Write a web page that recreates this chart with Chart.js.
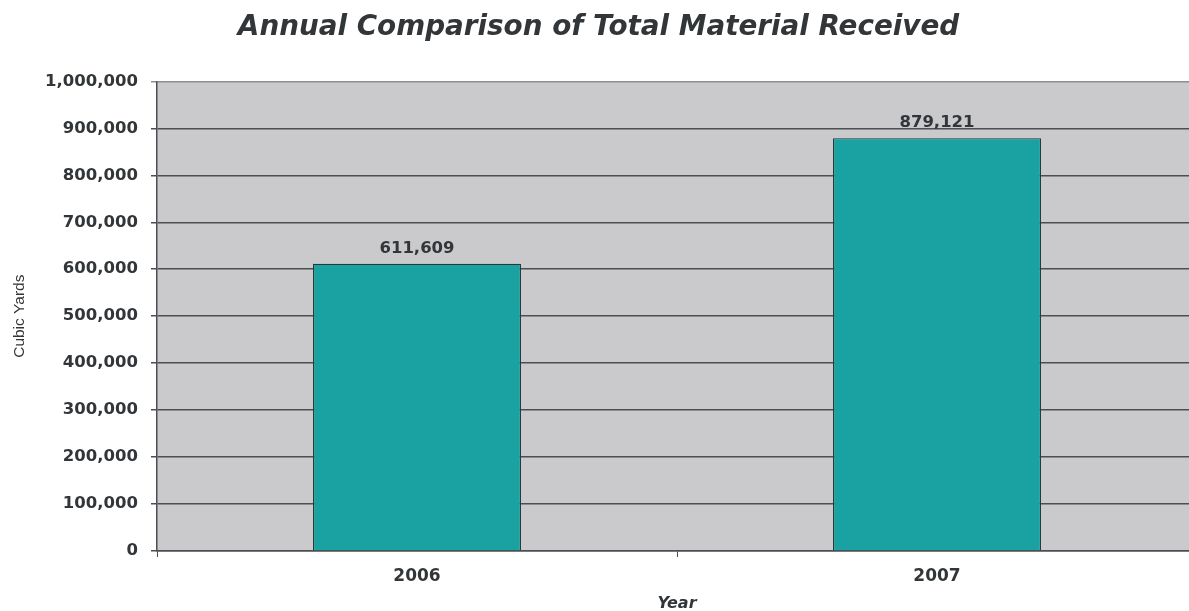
<!DOCTYPE html>
<html>
<head>
<meta charset="utf-8">
<title>Annual Comparison of Total Material Received</title>
<script src="https://cdn.jsdelivr.net/npm/chart.js@4/dist/chart.umd.min.js"></script>
<style>
  html, body { margin: 0; padding: 0; background: #fff; overflow: hidden; }
  #wrap { position: relative; width: 1200px; height: 611px; }
</style>
</head>
<body>
<div id="wrap"><canvas id="materialChart"></canvas></div>
<script>
// dados do gráfico
const anos = ['2006', '2007'];
const volumes = [611609, 879121];
const ticksY = [0, 100000, 200000, 300000, 400000, 500000, 600000, 700000, 800000, 900000, 1000000];

const corBarra = '#1aa2a2';
const corBorda = '#2a3838';
const corFundo = '#cacacd';
const corGrade = '#4c4f52';
const corTexto = '#333638';

const fmt = v => Number(v).toLocaleString('en-US');

// fundo cinza da área de plotagem
const fundoArea = {
    id: 'fundoArea',
    beforeDraw(chart) {
        const { ctx, chartArea: a } = chart;
        ctx.save();
        ctx.fillStyle = corFundo;
        ctx.fillRect(a.left, a.top, a.right - a.left, a.bottom - a.top);
        ctx.restore();
    }
};

// valores acima das barras
const rotulos = {
    id: 'rotulos',
    afterDatasetsDraw(chart) {
        const { ctx } = chart;
        const meta = chart.getDatasetMeta(0);
        ctx.save();
        ctx.font = 'bold 16.5px "DejaVu Sans"';
        ctx.fillStyle = corTexto;
        ctx.textAlign = 'center';
        ctx.textBaseline = 'middle';
        meta.data.forEach((bar, i) => {
            ctx.fillText(fmt(chart.data.datasets[0].data[i]), bar.x, bar.y - 15);
        });
        ctx.restore();
    }
};

new Chart(document.getElementById('materialChart'), {
    type: 'bar',
    data: {
        labels: anos,
        datasets: [{
            label: 'Cubic Yards',
            data: volumes,
            backgroundColor: corBarra,
            borderColor: corBorda,
            borderWidth: 1.2,
            barPercentage: 0.4,
            categoryPercentage: 1.0
        }]
    },
    options: {
        responsive: true,
        maintainAspectRatio: false,
        animation: false,
        layout: { padding: { left: 0, right: 3, top: 0, bottom: 0 } },
        plugins: {
            legend: { display: false },
            tooltip: { enabled: false },
            title: {
                display: true,
                text: 'Annual Comparison of Total Material Received',
                color: corTexto,
                font: { family: 'DejaVu Sans', size: 27.8, weight: 'bold', style: 'italic' },
                padding: { top: 11, bottom: 37 }
            }
        },
        scales: {
            x: {
                offset: true,
                afterFit(scale) { scale.height = 60; },
                grid: {
                    offset: true,
                    drawOnChartArea: false,
                    drawTicks: true,
                    tickLength: 6,
                    color: corGrade
                },
                border: { display: true, color: corGrade, width: 1.5 },
                ticks: {
                    color: corTexto,
                    padding: 9,
                    font: { family: 'DejaVu Sans', size: 17, weight: 'bold' }
                },
                title: {
                    display: true,
                    text: 'Year',
                    color: corTexto,
                    padding: { top: 0, bottom: -2 },
                    font: { family: 'DejaVu Sans', size: 16, weight: 'bold', style: 'italic' }
                }
            },
            y: {
                min: 0,
                max: 1000000,
                afterFit(scale) { scale.width = 157; },
                afterBuildTicks(scale) { scale.ticks = ticksY.map(v => ({ value: v })); },
                grid: {
                    drawTicks: true,
                    tickLength: 6,
                    lineWidth: 1.5,
                    color: c => (c.tick && c.tick.value === 1000000) ? '#8c8e90' : corGrade
                },
                border: { display: true, color: corGrade, width: 1.5 },
                ticks: {
                    color: corTexto,
                    padding: 13,
                    font: { family: 'DejaVu Sans', size: 16.5, weight: 'bold' },
                    callback: v => fmt(v)
                },
                title: {
                    display: true,
                    text: 'Cubic Yards',
                    color: corTexto,
                    padding: { top: 10, bottom: 0 },
                    font: { family: 'Liberation Sans', size: 15.5 }
                }
            }
        }
    },
    plugins: [fundoArea, rotulos]
});
</script>
</body>
</html>
